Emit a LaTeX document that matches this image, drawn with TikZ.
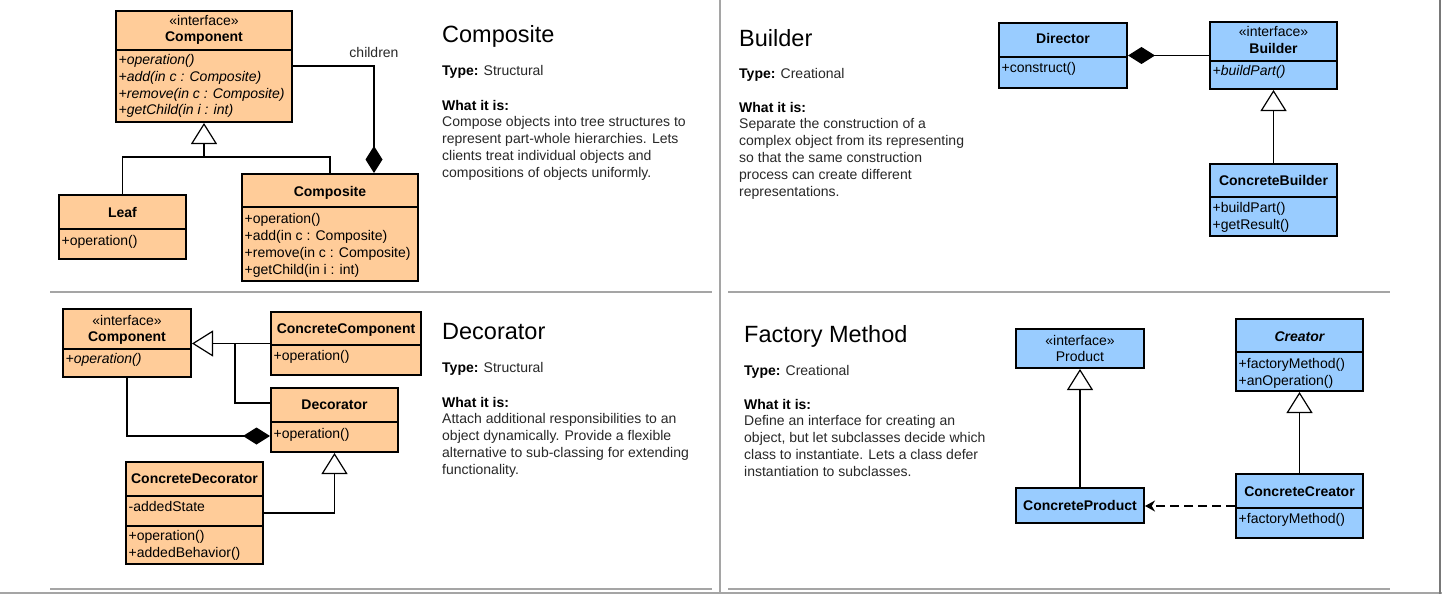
\documentclass[tikz,border=0pt]{standalone}
\usepackage{fontspec}
\setmainfont{Liberation Sans}
\usetikzlibrary{arrows.meta,fit}
\definecolor{orng}{RGB}{255,204,153}
\definecolor{blu}{RGB}{153,204,255}
\definecolor{sepg}{RGB}{165,165,165}
\definecolor{edgeg}{RGB}{120,120,120}
\definecolor{txtg}{RGB}{40,40,40}
\begin{document}
\begin{tikzpicture}[x=1pt,y=-1pt,
  cls/.style={draw=black, line width=2pt, inner sep=0pt},
  ocls/.style={cls, fill=orng},
  bcls/.style={cls, fill=blu},
  divl/.style={draw=black, line width=1.6pt},
  mem/.style={anchor=base west, inner sep=0pt, font=\fontsize{14}{17}\selectfont},
  imem/.style={mem, font=\itshape\fontsize{14}{17}\selectfont},
  ttl/.style={anchor=base, inner sep=0pt, font=\bfseries\fontsize{14}{17}\selectfont},
  ster/.style={anchor=base, inner sep=0pt, font=\fontsize{14}{17}\selectfont},
  conn/.style={draw=black, line width=1.2pt},
  gen/.style={conn, -{Triangle[open, length=21pt, width=26pt, fill=white]}},
  compos/.style={conn, -{Diamond[length=27pt, width=17pt, fill=black]}},
  dep/.style={conn, dash pattern=on 9pt off 5pt, -{Stealth[length=10pt, width=11pt]}},
  sep/.style={draw=sepg, line width=2pt},
  ptitle/.style={anchor=base west, inner sep=0pt, font=\fontsize{23.5}{28}\selectfont},
  dtext/.style={anchor=base west, inner sep=0pt, text=txtg, font=\fontsize{14}{17}\selectfont},
]
\fill[white] (0,0) rectangle (1442,594);
\useasboundingbox (0,0) rectangle (1442,594);

% ---------------- separators
\draw[sep] (50,292) -- (712,292);
\draw[sep] (728,292) -- (1390,292);
\draw[sep] (50,589) -- (712,589);
\draw[sep] (728,589) -- (1390,589);
\draw[sep] (0,593) -- (1442,593);
\draw[sep] (720,0) -- (720,594);
\draw[draw=edgeg, line width=2.5pt] (1440,0) -- (1440,594);

% ================= Composite =================
\node[ocls, fit={(116,11) (292,122)}] (cmp) {};
\draw[divl] (cmp.west |- 0,50) -- (cmp.east |- 0,50);
\node[ster] (cmpS) at (204,26) {«interface»};
\node[ttl] (cmpT) at (204,42) {Component};
\node[imem] (cmpM1) at (118.5,65) {+operation()};
\node[imem] (cmpM2) at (118.5,81.7) {+add(in c : Composite)};
\node[imem] (cmpM3) at (118.5,98.3) {+remove(in c : Composite)};
\node[imem] (cmpM4) at (118.5,114.5) {+getChild(in i : int)};

\node[ocls, fit={(59,195) (186,259)}] (leaf) {};
\draw[divl] (leaf.west |- 0,229) -- (leaf.east |- 0,229);
\node[ttl] (leafT) at (122.5,217) {Leaf};
\node[mem] (leafM) at (61.5,245) {+operation()};

\node[ocls, fit={(242,174) (418,281)}] (cps) {};
\draw[divl] (cps.west |- 0,207) -- (cps.east |- 0,207);
\node[ttl] (cpsT) at (330,196) {Composite};
\node[mem] (cpsM1) at (244.5,223) {+operation()};
\node[mem] (cpsM2) at (244.5,240) {+add(in c : Composite)};
\node[mem] (cpsM3) at (244.5,257) {+remove(in c : Composite)};
\node[mem] (cpsM4) at (244.5,274) {+getChild(in i : int)};

\coordinate (cj) at (204,157);
\draw[conn] (leaf.north) |- (cj) -| (cps.north);
\draw[gen] (cj) -- (cmp.south);
\coordinate (cc) at (374,66);
\draw[compos] (cmp.east |- cc) -- (cc) -- (cc |- cps.north);
\node[anchor=base, inner sep=0pt, text=txtg, font=\fontsize{14}{17}\selectfont] (chl) at (374,57) {children};

\node[ptitle] (t1) at (442,43) {Composite};
\node[dtext] (t1a) at (442,75) {{\color{black}\bfseries Type:} Structural};
\node[dtext] (t1b) at (442,110) {\color{black}\bfseries What it is:};
\node[dtext] (t1c) at (442,126.8) {Compose objects into tree structures to};
\node[dtext] (t1d) at (442,143.6) {represent part-whole hierarchies. Lets};
\node[dtext] (t1e) at (442,160.4) {clients treat individual objects and};
\node[dtext] (t1f) at (442,177.2) {compositions of objects uniformly.};

% ================= Builder =================
\node[bcls, fit={(999,23) (1127,88)}] (dir) {};
\draw[divl] (dir.west |- 0,57) -- (dir.east |- 0,57);
\node[ttl] (dirT) at (1063,44) {Director};
\node[mem] (dirM) at (1001.5,73) {+construct()};

\node[bcls, fit={(1210,22) (1337,89)}] (bld) {};
\draw[divl] (bld.west |- 0,61) -- (bld.east |- 0,61);
\node[ster] (bldS) at (1273.5,37) {«interface»};
\node[ttl] (bldT) at (1273.5,53) {Builder};
\node[imem] (bldM) at (1212.5,75) {+buildPart()};

\node[bcls, fit={(1210,164) (1337,236)}] (cbl) {};
\draw[divl] (cbl.west |- 0,197) -- (cbl.east |- 0,197);
\node[ttl] (cblT) at (1273.5,185) {ConcreteBuilder};
\node[mem] (cblM1) at (1212.5,212) {+buildPart()};
\node[mem] (cblM2) at (1212.5,229) {+getResult()};

\draw[compos] (bld.west) -- (dir.east);
\draw[gen] (cbl.north) -- (bld.south);

\node[ptitle] (t2) at (739,47) {Builder};
\node[dtext] (t2a) at (739,78) {{\color{black}\bfseries Type:} Creational};
\node[dtext] (t2b) at (739,112) {\color{black}\bfseries What it is:};
\node[dtext] (t2c) at (739,128.8) {Separate the construction of a};
\node[dtext] (t2d) at (739,145.6) {complex object from its representing};
\node[dtext] (t2e) at (739,162.4) {so that the same construction};
\node[dtext] (t2f) at (739,179.2) {process can create different};
\node[dtext] (t2g) at (739,196) {representations.};

% ================= Decorator =================
\node[ocls, fit={(63,309) (191,377)}] (dcm) {};
\draw[divl] (dcm.west |- 0,349) -- (dcm.east |- 0,349);
\node[ster] (dcmS) at (127,325) {«interface»};
\node[ttl] (dcmT) at (127,341) {Component};
\node[imem] (dcmM) at (65.5,363) {+operation()};

\node[ocls, fit={(271,312) (421,375)}] (ccm) {};
\draw[divl] (ccm.west |- 0,345) -- (ccm.east |- 0,345);
\node[ttl] (ccmT) at (346,333) {ConcreteComponent};
\node[mem] (ccmM) at (273.5,360) {+operation()};

\node[ocls, fit={(271,388) (398,452)}] (dec) {};
\draw[divl] (dec.west |- 0,422) -- (dec.east |- 0,422);
\node[ttl] (decT) at (334.5,409) {Decorator};
\node[mem] (decM) at (273.5,438) {+operation()};

\node[ocls, fit={(126,462) (263,564)}] (cdc) {};
\draw[divl] (cdc.west |- 0,496) -- (cdc.east |- 0,496);
\draw[divl] (cdc.west |- 0,526) -- (cdc.east |- 0,526);
\node[ttl] (cdcT) at (194.5,483) {ConcreteDecorator};
\node[mem] (cdcM1) at (128.5,511) {-addedState};
\node[mem] (cdcM2) at (128.5,540) {+operation()};
\node[mem] (cdcM3) at (128.5,557) {+addedBehavior()};

\draw[gen] (ccm.west) -- (dcm.east |- ccm.west);
\coordinate (dj) at (235,343.5);
\coordinate (dk) at (250,403);
\draw[conn] (dj) |- (dec.west |- dk);
\coordinate (dd) at (127,436);
\draw[compos] (dcm.south) |- (dec.west |- dd);
\draw[gen] (cdc.east) -| (dec.south);

\node[ptitle] (t3) at (442,339) {Decorator};
\node[dtext] (t3a) at (442,372) {{\color{black}\bfseries Type:} Structural};
\node[dtext] (t3b) at (442,407) {\color{black}\bfseries What it is:};
\node[dtext] (t3c) at (442,423.8) {Attach additional responsibilities to an};
\node[dtext] (t3d) at (442,440.6) {object dynamically. Provide a flexible};
\node[dtext] (t3e) at (442,457.4) {alternative to sub-classing for extending};
\node[dtext] (t3f) at (442,474.2) {functionality.};

% ================= Factory Method =================
\node[bcls, fit={(1016,329) (1144,368)}] (prd) {};
\node[ster] (prdS) at (1080,345) {«interface»};
\node[ster] (prdT) at (1080,361) {Product};

\node[bcls, fit={(1016,488) (1144,523)}] (cpr) {};
\node[ttl] (cprT) at (1080,510) {ConcreteProduct};

\node[bcls, fit={(1236,319) (1363,391)}] (crt) {};
\draw[divl] (crt.west |- 0,352) -- (crt.east |- 0,352);
\node[ttl, font=\bfseries\itshape\fontsize{14}{17}\selectfont] (crtT) at (1299.5,341) {Creator};
\node[mem] (crtM1) at (1238.5,368) {+factoryMethod()};
\node[mem] (crtM2) at (1238.5,385) {+anOperation()};

\node[bcls, fit={(1236,474) (1363,538)}] (ccr) {};
\draw[divl] (ccr.west |- 0,508) -- (ccr.east |- 0,508);
\node[ttl] (ccrT) at (1299.5,496) {ConcreteCreator};
\node[mem] (ccrM) at (1238.5,523) {+factoryMethod()};

\draw[gen] (cpr.north) -- (prd.south);
\draw[gen] (ccr.north) -- (crt.south);
\coordinate (fd) at (1200,506);
\draw[dep] (ccr.west |- fd) -- (cpr.east |- fd);

\node[ptitle] (t4) at (744,342) {Factory Method};
\node[dtext] (t4a) at (744,375) {{\color{black}\bfseries Type:} Creational};
\node[dtext] (t4b) at (744,409) {\color{black}\bfseries What it is:};
\node[dtext] (t4c) at (744,425.8) {Define an interface for creating an};
\node[dtext] (t4d) at (744,442.6) {object, but let subclasses decide which};
\node[dtext] (t4e) at (744,459.4) {class to instantiate. Lets a class defer};
\node[dtext] (t4f) at (744,476.2) {instantiation to subclasses.};
\end{tikzpicture}
\end{document}
